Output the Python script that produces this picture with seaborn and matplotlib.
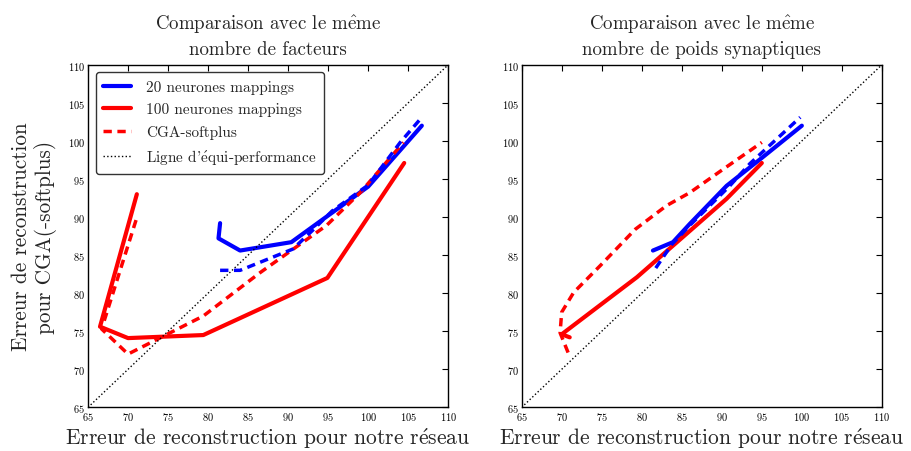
import matplotlib
matplotlib.use("Agg")
import matplotlib.pyplot as plt
import seaborn as sns
import numpy as np

# Panneau gauche : même nombre de facteurs
g_bleu_x = [81.5, 81.3, 84.0, 90.4, 95.0, 100.0, 106.7]
g_bleu_y = [89.2, 87.2, 85.6, 86.7, 90.2, 94.0, 102.0]
g_bleu_cga_x = [81.5, 84.0, 90.6, 93.0, 95.5, 100.0, 104.0, 106.7]
g_bleu_cga_y = [83.0, 83.0, 85.8, 88.2, 90.8, 94.2, 99.8, 103.1]
g_rouge_x = [71.1, 66.5, 70.0, 79.4, 94.9, 104.5]
g_rouge_y = [93.0, 75.6, 74.1, 74.5, 82.0, 97.1]
g_rouge_cga_x = [71.0, 66.7, 70.0, 79.4, 86.5, 94.8, 99.0, 104.4]
g_rouge_cga_y = [89.6, 75.3, 72.0, 77.0, 82.7, 88.9, 93.2, 99.8]

# Panneau droit : même nombre de poids synaptiques
d_bleu_x = [81.4, 83.9, 86.0, 90.6, 94.8, 100.0]
d_bleu_y = [85.6, 86.7, 89.1, 94.1, 97.6, 102.0]
d_bleu_cga_x = [81.75, 83.75, 86.0, 91.0, 93.5, 99.8]
d_bleu_cga_y = [83.3, 86.4, 88.9, 94.1, 97.0, 103.1]
d_rouge_x = [71.0, 70.0, 79.4, 90.6, 95.0]
d_rouge_y = [74.2, 74.6, 82.1, 92.4, 97.1]
d_rouge_cga_x = [70.8, 69.8, 70.0, 71.5, 74.8, 79.2, 83.1, 86.0, 90.2, 95.0]
d_rouge_cga_y = [72.2, 74.8, 77.5, 80.1, 83.6, 88.4, 91.5, 93.2, 96.3, 99.8]

diag = [65, 110]
ticks = list(range(65, 111, 5))

E_AIGU = r'$\acute{\mathrm{e}}$'
E_CIRC = r'$\hat{\mathrm{e}}$'

sns.set_style("white")
plt.rcParams['font.family'] = ['cmr10', 'DejaVu Serif']
plt.rcParams['mathtext.fontset'] = 'cm'
plt.rcParams['axes.formatter.use_mathtext'] = True

fig = plt.figure(figsize=(9.12, 4.52), dpi=100)
ax1 = fig.add_axes([0.0965, 0.0965, 0.395, 0.758])
ax2 = fig.add_axes([0.572, 0.0965, 0.395, 0.758])

tirets = (0, (2.4, 1.6))


def trace(ax, x, y, couleur, style, lw, label=None):
    sns.lineplot(x=x, y=y, ax=ax, sort=False, estimator=None, color=couleur,
                 linestyle=style, linewidth=lw, label=label, legend=False)


for ax, panneau in [(ax1, 'g'), (ax2, 'd')]:
    if panneau == 'g':
        donnees = (g_bleu_x, g_bleu_y, g_bleu_cga_x, g_bleu_cga_y,
                   g_rouge_x, g_rouge_y, g_rouge_cga_x, g_rouge_cga_y)
    else:
        donnees = (d_bleu_x, d_bleu_y, d_bleu_cga_x, d_bleu_cga_y,
                   d_rouge_x, d_rouge_y, d_rouge_cga_x, d_rouge_cga_y)
    bx, by, bcx, bcy, rx, ry, rcx, rcy = donnees
    trace(ax, bx, by, 'blue', '-', 3, '20 neurones mappings')
    trace(ax, rx, ry, 'red', '-', 3, '100 neurones mappings')
    trace(ax, rcx, rcy, 'red', tirets, 2.5, 'CGA-softplus')
    trace(ax, bcx, bcy, 'blue', tirets, 2.5)
    trace(ax, diag, diag, 'black', ':', 1, "Ligne d'" + E_AIGU + "qui-performance")

    ax.set_xlim(65, 110)
    ax.set_ylim(65, 110)
    ax.set_xticks(ticks)
    ax.set_yticks(ticks)
    ax.tick_params(direction='in', top=True, right=True, length=4,
                   labelsize=7.5, colors='black', pad=2)
    for s in ax.spines.values():
        s.set_color('black')
        s.set_linewidth(1)
    ax.set_xlabel('Erreur de reconstruction pour notre r' + E_AIGU + 'seau',
                  fontsize=15.5, labelpad=2)

ax1.set_title('Comparaison avec le m' + E_CIRC + 'me\nnombre de facteurs',
              fontsize=13.6, linespacing=1.35, pad=8)
ax2.set_title('Comparaison avec le m' + E_CIRC + 'me\nnombre de poids synaptiques',
              fontsize=13.6, linespacing=1.35, pad=8)
ax1.set_ylabel('Erreur de reconstruction\npour CGA(-softplus)', fontsize=15.3,
               labelpad=8, linespacing=1.15)

h, l = ax1.get_legend_handles_labels()
ax1.legend(h, l, loc='upper left', fontsize=11, frameon=True, fancybox=True,
           edgecolor='black', handlelength=1.8, handletextpad=1.0,
           borderpad=0.5, labelspacing=0.55)

fig.savefig('out.png', dpi=100)
